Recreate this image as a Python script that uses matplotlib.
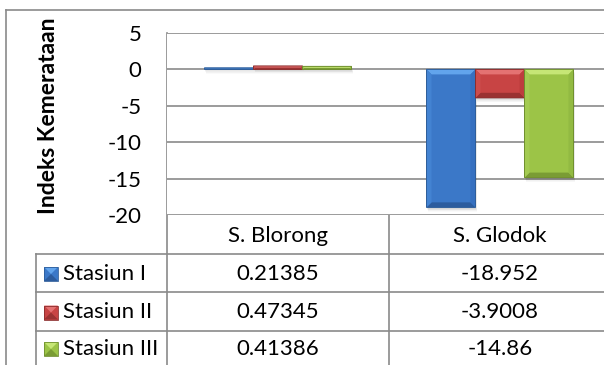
import matplotlib
matplotlib.use("Agg")
import matplotlib.pyplot as plt
from matplotlib.patches import Polygon, Rectangle
import numpy as np

plt.rcParams['font.family'] = ['Lato', 'DejaVu Sans']

categories = ["S. Blorong", "S. Glodok"]
series_names = ["Stasiun I", "Stasiun II", "Stasiun III"]
stasiun_1 = [0.21385, -18.952]
stasiun_2 = [0.47345, -3.9008]
stasiun_3 = [0.41386, -14.86]
series_values = [stasiun_1, stasiun_2, stasiun_3]
value_labels = [["0.21385", "-18.952"], ["0.47345", "-3.9008"], ["0.41386", "-14.86"]]
y_ticks = [5, 0, -5, -10, -15, -20]

# face, top, left, right, bottom, edge
palettes = [
    ("#3b78c8", "#62a4ec", "#4383d2", "#3670c0", "#2c5c9e", "#2d5d9a"),
    ("#c84444", "#e47272", "#cd4c4c", "#bd3e3e", "#9a3232", "#8c2d2d"),
    ("#9cc447", "#c6e676", "#a4cb52", "#92ba42", "#7a9c34", "#6f8f2e"),
]

W, H = 604, 365
fig = plt.figure(figsize=(W / 100, H / 100), dpi=100)

def fx(px):
    return px / W

def fy(py):
    return 1 - py / H

FS = 16

# main plot area (pixel geometry)
left, right, top, bottom = 167, 604, 33, 215
cat_w = 222
ax = fig.add_axes([fx(left), fy(bottom), fx(right - left), (bottom - top) / H])
ax.set_ylim(-20, 5)
ax.set_xlim(0, (right - left) / cat_w)
ax.set_yticks(y_ticks)
ax.set_yticklabels([str(t) for t in y_ticks], fontsize=FS)
ax.tick_params(axis='y', length=0, pad=18.5)
ax.set_xticks([])
for s in ax.spines.values():
    s.set_visible(False)
for t in y_ticks:
    ax.axhline(t, color="#8a8a8a", lw=1.2, zorder=1)

bar_px = 49
bw = bar_px / cat_w
x = np.arange(len(categories)) + 0.5
px_x = bw / bar_px            # data units per pixel, x
px_y = 25 / (bottom - top)    # data units per pixel, y

for i, vals in enumerate(series_values):
    face, topc, leftc, rightc, botc, edge = palettes[i]
    xs = x + (i - 1) * bw
    bars = ax.bar(xs, vals, width=bw, color=face, lw=0, zorder=3)
    for b in bars:
        b.set_snap(False)
        x0 = b.get_x()
        w = b.get_width()
        y_a = b.get_y()
        h = b.get_height()
        y_lo, y_hi = min(y_a, y_a + h), max(y_a, y_a + h)
        # soft shadow under each bar
        for ox, oy, a in [(3.0, 4.0, 0.05), (2.0, 2.5, 0.07), (1.0, 1.2, 0.08)]:
            sh = Rectangle((x0 + ox * px_x * 0.5, y_lo - oy * px_y), w, y_hi - y_lo,
                           color="#000000", alpha=a, lw=0, zorder=2)
            sh.set_snap(False)
            ax.add_patch(sh)
        hpx = (y_hi - y_lo) / px_y
        bev = min(5.0, hpx / 2.0)
        bx, by = bev * px_x, bev * px_y
        x1 = x0 + w
        facets = [
            ([(x0, y_hi), (x1, y_hi), (x1 - bx, y_hi - by), (x0 + bx, y_hi - by)], topc),
            ([(x0, y_lo), (x1, y_lo), (x1 - bx, y_lo + by), (x0 + bx, y_lo + by)], botc),
            ([(x0, y_hi), (x0 + bx, y_hi - by), (x0 + bx, y_lo + by), (x0, y_lo)], leftc),
            ([(x1, y_hi), (x1 - bx, y_hi - by), (x1 - bx, y_lo + by), (x1, y_lo)], rightc),
        ]
        for pts, c in facets:
            ax.add_patch(Polygon(pts, closed=True, color=c, lw=0, zorder=4))
        outline = Rectangle((x0, y_lo), w, y_hi - y_lo, fill=False,
                            edgecolor=edge, lw=0.7, zorder=5)
        outline.set_snap(False)
        ax.add_patch(outline)

# overlay in pixel coordinates: frame, data table, axis title
ov = fig.add_axes([0, 0, 1, 1], zorder=-1)
ov.set_xlim(0, W)
ov.set_ylim(H, 0)
ov.axis("off")
ov.patch.set_alpha(0)

line_kw = dict(color="#8a8a8a", lw=1.2)
# outer frame
ov.plot([6, 6], [10, H], **line_kw)
ov.plot([6, W], [10, 10], **line_kw)

row_y = [215, 254, 292, 331, H]
ov.plot([left, left], [top, H], **line_kw)
ov.plot([left + cat_w, left + cat_w], [215, H], **line_kw)
ov.plot([36, 36], [254, H], **line_kw)
for yy in row_y[1:4]:
    ov.plot([36, W], [yy, yy], **line_kw)

for j, c in enumerate(categories):
    xc = left + cat_w * (j + 0.5)
    ov.text(xc, (row_y[0] + row_y[1]) / 2 + 1, c, ha="center", va="center", fontsize=FS)

for i, name in enumerate(series_names):
    yc = (row_y[i + 1] + row_y[i + 2]) / 2 + 1
    face, topc, leftc, rightc, botc, edge = palettes[i]
    sq = 14
    sx, sy = 44, yc - sq / 2
    ov.add_patch(Rectangle((sx, sy), sq, sq, color=face, lw=0))
    ov.add_patch(Polygon([(sx, sy), (sx + sq, sy), (sx + sq / 2, sy + sq / 2)],
                         closed=True, color=topc, lw=0))
    ov.add_patch(Polygon([(sx, sy + sq), (sx + sq, sy + sq), (sx + sq / 2, sy + sq / 2)],
                         closed=True, color=botc, lw=0))
    ov.add_patch(Rectangle((sx, sy), sq, sq, fill=False, edgecolor=edge, lw=0.6))
    ov.text(63, yc, name, ha="left", va="center", fontsize=FS)
    for j in range(len(categories)):
        xc = left + cat_w * (j + 0.5)
        ov.text(xc, yc, value_labels[i][j], ha="center", va="center", fontsize=FS)

ov.text(49, 116, "Indeks Kemerataan", rotation=90, ha="center", va="center",
        fontsize=16.5, fontweight="bold")

fig.savefig("out.png", dpi=100, facecolor="white")
